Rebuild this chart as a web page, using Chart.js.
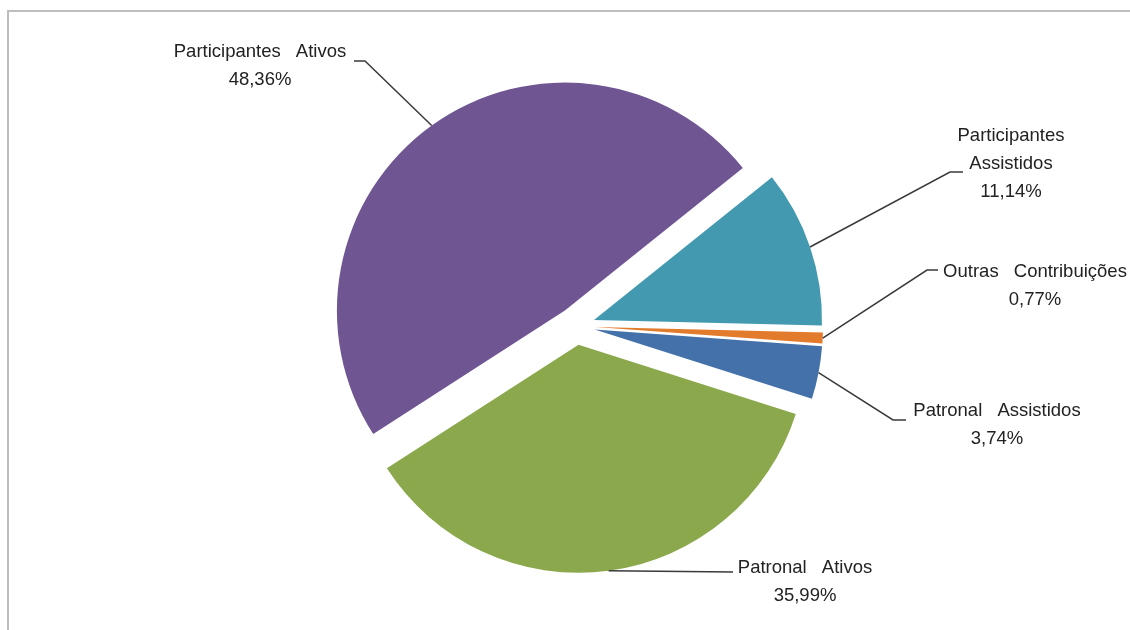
<!DOCTYPE html>
<html>
<head>
<meta charset="utf-8">
<script src="https://cdn.jsdelivr.net/npm/chart.js@4/dist/chart.umd.min.js"></script>
<style>
  html, body { margin: 0; padding: 0; background: #fff; overflow: hidden; }
  #wrap { position: relative; width: 1130px; height: 630px; }
  #frame { position: absolute; left: 7px; top: 10px; width: 1150px; height: 650px; border: 2px solid #bdbdbd; box-sizing: border-box; }
  canvas { position: absolute; left: 0; top: 0; }
</style>
</head>
<body>
<div id="wrap">
  <div id="frame"></div>
  <canvas id="pieChart" width="1130" height="630"></canvas>
</div>
<script>
const categories = ['Participantes Ativos', 'Participantes Assistidos', 'Outras Contribuições', 'Patronal Assistidos', 'Patronal Ativos'];
const shares = [48.36, 11.14, 0.77, 3.74, 35.99];
const sliceColors = ['#6f5592', '#4299b0', '#e27b2b', '#4571aa', '#8ba84c'];

// where each label sits and how its leader line bends
const labelSpots = [
    {x: 260, y: 52, elbow: [365, 61], end: [354, 61], wrap: false},
    {x: 1011, y: 136, elbow: [950, 172], end: [963, 172], wrap: true},
    {x: 1035, y: 272, elbow: [927, 270], end: [938, 270], wrap: false},
    {x: 997, y: 411, elbow: [893, 420], end: [906, 420], wrap: false},
    {x: 805, y: 568, elbow: [733, 572], end: [733, 572], wrap: false}
];

const gap = 19;        // how far each slice is pulled out
const lineHeight = 28;
const wordGap = 10;

function pct(v) {
    return v.toFixed(2).replace('.', ',') + '%';
}

function drawSpaced(ctx, text, cx, y) {
    const words = text.split(' ');
    const space = ctx.measureText(' ').width + wordGap;
    const widths = words.map(w => ctx.measureText(w).width);
    const total = widths.reduce((a, b) => a + b, 0) + space * (words.length - 1);
    let x = cx - total / 2;
    words.forEach((w, i) => {
        ctx.fillText(w, x, y);
        x += widths[i] + space;
    });
}

// pull every slice outward along its middle angle
const explode = {
    id: 'explode',
    beforeDatasetDraw(chart, args) {
        const ctx = chart.ctx;
        args.meta.data.forEach(arc => {
            const mid = (arc.startAngle + arc.endAngle) / 2;
            ctx.save();
            ctx.translate(Math.cos(mid) * gap, Math.sin(mid) * gap);
            arc.draw(ctx);
            ctx.restore();
        });
        return false;
    }
};

const leaderLabels = {
    id: 'leaderLabels',
    afterDraw(chart) {
        const ctx = chart.ctx;
        const arcs = chart.getDatasetMeta(0).data;
        ctx.save();
        arcs.forEach((arc, i) => {
            const spot = labelSpots[i];
            const mid = (arc.startAngle + arc.endAngle) / 2;
            const r = arc.outerRadius + gap;
            const sx = arc.x + Math.cos(mid) * r;
            const sy = arc.y + Math.sin(mid) * r;

            ctx.beginPath();
            ctx.moveTo(sx, sy);
            ctx.lineTo(spot.elbow[0], spot.elbow[1]);
            ctx.lineTo(spot.end[0], spot.end[1]);
            ctx.strokeStyle = '#3a3a3a';
            ctx.lineWidth = 1.5;
            ctx.stroke();

            const lines = spot.wrap ? categories[i].split(' ') : [categories[i]];
            lines.push(pct(shares[i]));
            ctx.fillStyle = '#222';
            ctx.font = '18.5px "Liberation Sans", Arial, sans-serif';
            ctx.textAlign = 'left';
            ctx.textBaseline = 'middle';
            lines.forEach((line, k) => drawSpaced(ctx, line, spot.x, spot.y + k * lineHeight));
        });
        ctx.restore();
    }
};

new Chart(document.getElementById('pieChart'), {
    type: 'pie',
    data: {
        labels: categories,
        datasets: [{
            data: shares,
            backgroundColor: sliceColors,
            borderWidth: 0,
            radius: 228
        }]
    },
    options: {
        responsive: false,
        animation: false,
        rotation: 237.2,
        layout: {padding: {left: 336, right: 314, top: 86, bottom: 64}},
        plugins: {
            legend: {display: false},
            tooltip: {enabled: false}
        }
    },
    plugins: [explode, leaderLabels]
});
</script>
</body>
</html>
